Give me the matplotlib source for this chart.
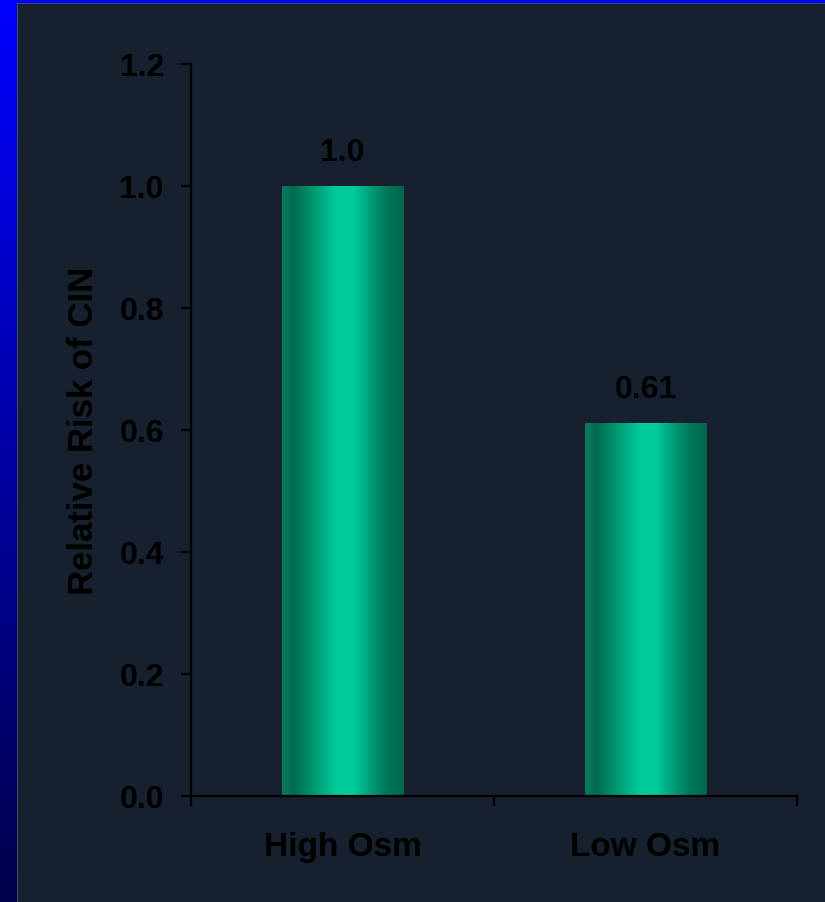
import numpy as np
import matplotlib
matplotlib.use("Agg")
import matplotlib.pyplot as plt
from matplotlib.colors import LinearSegmentedColormap
from matplotlib.patches import Rectangle

# Data
categories = ["High Osm", "Low Osm"]
relative_risk = [1.0, 0.61]
value_labels = ["1.0", "0.61"]
y_ticks = [0.0, 0.2, 0.4, 0.6, 0.8, 1.0, 1.2]

W, H, DPI = 825, 903, 100
fig = plt.figure(figsize=(W / DPI, H / DPI), dpi=DPI)
fig.patch.set_facecolor("#16202e")

plt.rcParams["font.family"] = ["Liberation Sans", "DejaVu Sans"]

# Slide frame: blue bar on top, vertical blue gradient on the left
bg = fig.add_axes([0, 0, 1, 1], zorder=-10)
bg.set_xlim(0, W)
bg.set_ylim(H, 0)
bg.axis("off")
grad = np.linspace(1.0, 0.0, 256).reshape(-1, 1)
blue_cmap = LinearSegmentedColormap.from_list("edge", ["#00004a", "#0000ff"])
bg.imshow(grad, cmap=blue_cmap, extent=[0, 17, H, 0], aspect="auto", zorder=1)
bg.add_patch(Rectangle((0, 0), W, 4, color="#0000ff", zorder=2, lw=0))
bg.add_patch(Rectangle((17, 4), W, 1.2, color="#3c4c62", zorder=2, lw=0))
bg.add_patch(Rectangle((17, 4), 1.2, H, color="#3c4c62", zorder=2, lw=0))

# Plot area
ax = fig.add_axes([191 / W, 1 - 797 / H, (797 - 191) / W, (797 - 65) / H])
ax.set_facecolor("none")
ax.set_xlim(-0.5, len(categories) - 0.5)
ax.set_ylim(0, 1.2)

bar_cmap = LinearSegmentedColormap.from_list(
    "bar",
    [(0.0, "#0a7c5e"), (0.09, "#006a4e"), (0.45, "#00cc99"),
     (0.58, "#00cc99"), (0.86, "#00765a"), (1.0, "#00664c")],
)
bar_width = 0.40
shade = np.linspace(0, 1, 256).reshape(1, -1)
for i, (v, lab) in enumerate(zip(relative_risk, value_labels)):
    x0 = i - bar_width / 2
    ax.imshow(shade, cmap=bar_cmap, extent=[x0, x0 + bar_width, 0, v],
              aspect="auto", zorder=2, interpolation="bilinear")
    ax.annotate(lab, (i, v), xytext=(0, 14), textcoords="offset points",
                ha="center", va="bottom", fontsize=23, fontweight="bold",
                color="black")

ax.set_xlim(-0.5, len(categories) - 0.5)
ax.set_ylim(0, 1.2)

for s in ["top", "right"]:
    ax.spines[s].set_visible(False)
for s in ["left", "bottom"]:
    ax.spines[s].set_color("black")
    ax.spines[s].set_linewidth(1.6)

ax.set_yticks(y_ticks)
ax.set_yticklabels([f"{t:.1f}" for t in y_ticks], fontsize=23,
                   fontweight="bold", color="black")
ax.tick_params(axis="y", length=7.5, width=1.6, color="black", pad=12)

# Boundary ticks between categories, labels at the category centers
ax.set_xticks(np.arange(len(categories) + 1) - 0.5)
ax.set_xticklabels([])
ax.tick_params(axis="x", which="major", length=7.5, width=1.6, color="black")
ax.set_xticks(np.arange(len(categories)), minor=True)
ax.set_xticklabels(categories, minor=True, fontsize=24, fontweight="bold",
                   color="black")
ax.tick_params(axis="x", which="minor", length=0, pad=25)

ax.set_ylabel("Relative Risk of CIN", fontsize=25, fontweight="bold",
              color="black", labelpad=14)

fig.savefig("out.png", dpi=DPI, facecolor=fig.get_facecolor())
